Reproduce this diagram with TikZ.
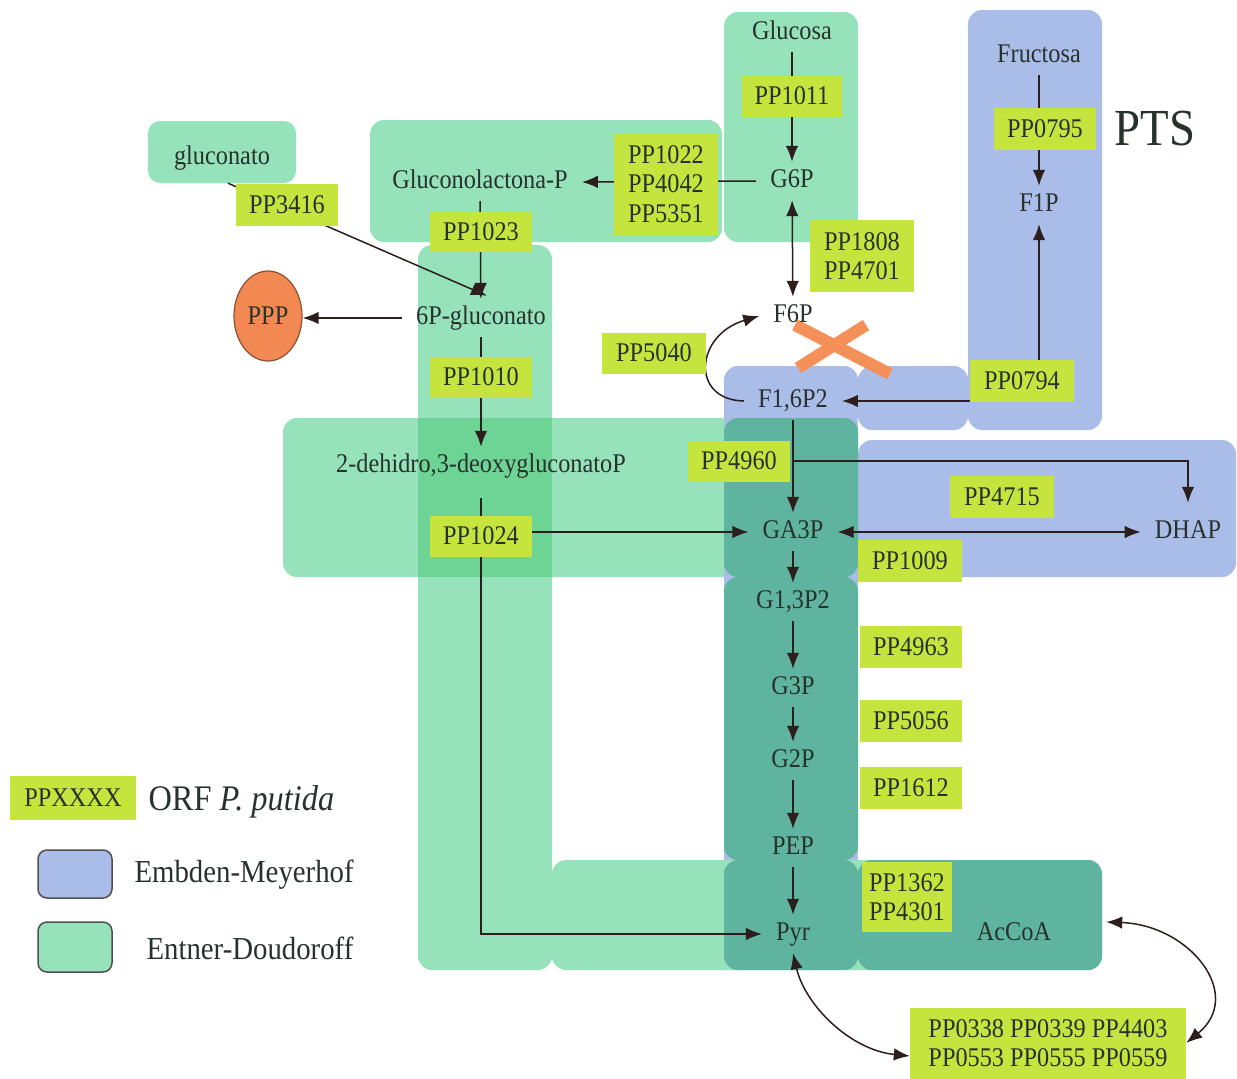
\documentclass[tikz,border=0pt]{standalone}
\usepackage{fontspec}
\setmainfont{Liberation Serif}[FakeStretch=0.9]
\usetikzlibrary{arrows.meta,calc,shapes.geometric}
\pgfdeclarelayer{back}
\pgfdeclarelayer{links}
\pgfsetlayers{back,links,main}

\definecolor{edgreen}{RGB}{150,226,186}
\definecolor{edgreendk}{RGB}{110,212,150}
\definecolor{emblue}{RGB}{170,188,232}
\definecolor{shared}{RGB}{94,180,158}
\definecolor{orfyellow}{RGB}{198,228,62}
\definecolor{ink}{RGB}{40,50,44}
\definecolor{arrowink}{RGB}{45,30,30}
\definecolor{crossout}{RGB}{245,145,88}
\definecolor{pppfill}{RGB}{242,136,82}
\definecolor{pppline}{RGB}{140,80,50}
\definecolor{swatchline}{RGB}{80,80,80}

\begin{document}
\begin{tikzpicture}[x=1pt,y=-1pt,
  txtfont/.style={font=\fontsize{27}{29.5}\selectfont},
  met/.style={txtfont,text=ink,inner xsep=14pt,inner ysep=6.5pt,text height=19pt,text depth=6pt},
  orf/.style={txtfont,text=ink,fill=orfyellow,align=center,inner sep=0pt},
  region/.style={rounded corners=14pt},
  conn/.style={draw=arrowink,line width=1.5pt},
  arr/.style={conn,-{Latex[length=16pt,width=12.5pt]}},
  darr/.style={conn,{Latex[length=16pt,width=12.5pt]}-{Latex[length=16pt,width=12.5pt]}},
  legendtext/.style={anchor=west,text=ink,font=\fontsize{32}{36}\selectfont},
  swatch/.style={draw=swatchline,line width=1.5pt,rounded corners=9pt,minimum width=74pt,inner sep=0pt}
]
\useasboundingbox (0,0) rectangle (1237,1079);

% ---------- pathway regions ----------
\begin{pgfonlayer}{back}
  % Entner-Doudoroff
  \node[fill=edgreen,rounded corners=12pt,minimum width=148pt,minimum height=62pt,inner sep=0pt] (gluconatobox) at (222,152) {};
  \fill[edgreen,region] (370,120) rectangle (722,242);
  \fill[edgreen,region] (724,12) rectangle (858,242);
  \fill[edgreen,region] (418,245) rectangle (552,970);
  \fill[edgreen,region] (283,418) rectangle (858,577);
  \fill[edgreen,region] (552,860) rectangle (1102,970);
  \fill[edgreendk] (418,418) rectangle (552,577);
  % Embden-Meyerhof
  \fill[emblue,region] (968,10) rectangle (1102,430);
  \fill[emblue,region] (724,366) rectangle (858,430);
  \fill[emblue,region] (858,366) rectangle (968,430);
  \fill[emblue,region] (858,440) rectangle (1236,577);
  \fill[emblue] (724,420) rectangle (858,860);
  % shared steps
  \fill[shared,region] (724,418) rectangle (858,577);
  \fill[shared,region] (724,577) rectangle (858,860);
  \fill[shared,region] (724,860) rectangle (858,970);
  \node[fill=shared,rounded corners=14pt,minimum width=244pt,minimum height=110pt,inner sep=0pt] (acbox) at (980,915) {};
  % blocked step
  \draw[crossout,line width=12pt] (795,325) -- (890,374);
  \draw[crossout,line width=12pt] (798,368) -- (866,325);
\end{pgfonlayer}

% ---------- metabolites ----------
\node[met] (gluconato) at (222,158) {gluconato};
\node[met] (glucosa) at (792,33) {Glucosa};
\node[met] (g6p) at (792,181) {G6P};
\node[met] (glucolac) at (480,182) {Gluconolactona-P};
\node[met] (p6g) at (481,318) {6P-gluconato};
\node[met] (dehidro) at (481,466) {2-dehidro,3-deoxygluconatoP};
\node[met] (f6p) at (793,316) {F6P};
\node[met] (f16) at (793,401) {F1,6P2};
\node[met] (fructosa) at (1039,56) {Fructosa};
\node[met] (f1p) at (1039,205) {F1P};
\node[met] (ga3p) at (793,532) {GA3P};
\node[met] (dhap) at (1188,532) {DHAP};
\node[met] (g13p2) at (793,602) {G1,3P2};
\node[met] (g3p) at (793,688) {G3P};
\node[met] (g2p) at (793,761) {G2P};
\node[met] (pep) at (793,848) {PEP};
\node[met] (pyr) at (793,934) {Pyr};
\node[met] (accoa) at (1014,934) {AcCoA};
\node[ellipse,draw=pppline,fill=pppfill,line width=1.2pt,minimum width=68pt,minimum height=90pt,inner sep=0pt,txtfont,text=ink] (ppp) at (268,316) {PPP};
\node[anchor=west,text=ink,font=\fontsize{52}{56}\selectfont] (pts) at (1111,129) {PTS};

% ---------- ORF labels ----------
\node[orf,minimum width=100pt,minimum height=41pt] (pp1011) at (792,96) {PP1011};
\node[orf,minimum width=104pt,minimum height=101pt] (pp1022) at (666,184) {PP1022\\PP4042\\PP5351};
\node[orf,minimum width=102pt,minimum height=42pt] (pp3416) at (287,205) {PP3416};
\node[orf,minimum width=102pt,minimum height=40pt] (pp1023) at (481,232) {PP1023};
\node[orf,minimum width=102pt,minimum height=41pt] (pp1010) at (481,377) {PP1010};
\node[orf,minimum width=102pt,minimum height=41pt] (pp1024) at (481,536) {PP1024};
\node[orf,minimum width=102pt,minimum height=41pt] (pp4960) at (739,461) {PP4960};
\node[orf,minimum width=104pt,minimum height=72pt] (pp1808) at (862,256) {PP1808\\PP4701};
\node[orf,minimum width=104pt,minimum height=41pt] (pp5040) at (654,353) {PP5040};
\node[orf,minimum width=102pt,minimum height=42pt] (pp0795) at (1045,129) {PP0795};
\node[orf,minimum width=104pt,minimum height=42pt] (pp0794) at (1022,381) {PP0794};
\node[orf,minimum width=104pt,minimum height=42pt] (pp4715) at (1002,497) {PP4715};
\node[orf,minimum width=104pt,minimum height=42pt] (pp1009) at (910,561) {PP1009};
\node[orf,minimum width=102pt,minimum height=42pt] (pp4963) at (911,647) {PP4963};
\node[orf,minimum width=102pt,minimum height=42pt] (pp5056) at (911,721) {PP5056};
\node[orf,minimum width=102pt,minimum height=42pt] (pp1612) at (911,788) {PP1612};
\node[orf,minimum width=90pt,minimum height=70pt] (pp1362) at (907,897) {PP1362\\PP4301};
\node[orf,minimum width=276pt,minimum height=71pt] (exch) at (1048,1043) {PP0338 PP0339 PP4403\\PP0553 PP0555 PP0559};

% ---------- legend ----------
\node[orf,minimum width=126pt,minimum height=44pt] (legorf) at (73,798) {PPXXXX};
\node[legendtext,font=\fontsize{36}{40}\selectfont] (legorftext) at (145,802) {ORF \textit{P. putida}};
\node[swatch,fill=emblue,minimum height=48pt] (legem) at (75,874) {};
\node[legendtext] (legemtext) at (131,875) {Embden-Meyerhof};
\node[swatch,fill=edgreen,minimum height=50pt] (leged) at (75,947) {};
\node[legendtext] (legedtext) at (143,948) {Entner-Doudoroff};

% ---------- reactions ----------
\begin{pgfonlayer}{links}
  \draw[arr] (glucosa) -- (g6p);
  \draw[arr] (g6p.west) -- (glucolac.east);
  \draw[darr] (g6p) -- (f6p);
  \draw[arr] (glucolac) -- (p6g);
  \draw[arr] ($(gluconatobox.south)+(6,0)$) -- ($(p6g.north)+(6,-3)$);
  \draw[arr] (p6g.west) -- (p6g.west -| ppp.east);
  \draw[arr] (p6g) -- (dehidro);
  \draw[arr,shorten <=13pt] (dehidro.south) |- (pyr.west);
  \draw[arr] (pp1024.east |- ga3p.west) -- (ga3p.west);
  \draw[arr] (f16) -- (ga3p);
  \draw[arr] (f16.south |- pp4960.east) -| ($(dhap.north)+(0,-10)$);
  \draw[darr] (ga3p.east) -- (ga3p.east -| dhap.west);
  \draw[arr] (ga3p) -- (g13p2);
  \draw[arr] (g13p2) -- (g3p);
  \draw[arr] (g3p) -- (g2p);
  \draw[arr] (g2p) -- (pep);
  \draw[arr] (pep) -- (pyr);
  \draw[arr] (fructosa) -- (f1p);
  \draw[arr] (pp0794.north -| f1p.south) -- (f1p.south);
  \draw[arr] (pp0794.west |- f16.east) -- (f16.east);
  \draw[arr] (f16.west) .. controls (690,400) and (695,335) .. (f6p.west);
  \draw[darr] (pyr.south) .. controls (805,1005) and (850,1050) .. ($(exch.west)+(0,13)$);
  \draw[darr] ($(acbox.east)+(4,7)$) .. controls (1190,925) and (1245,995) .. (exch.east);
\end{pgfonlayer}
\end{tikzpicture}
\end{document}
